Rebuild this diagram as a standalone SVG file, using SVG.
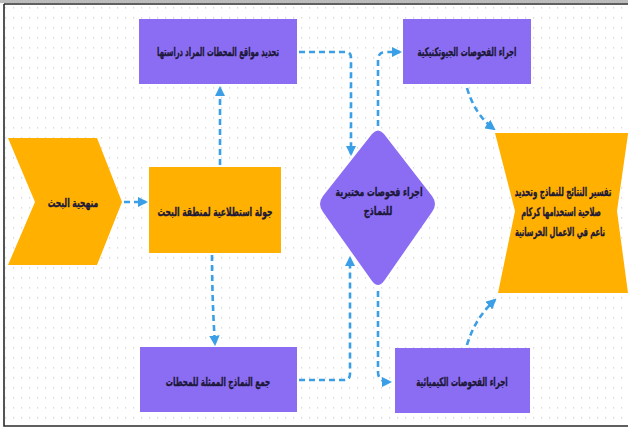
<svg xmlns="http://www.w3.org/2000/svg" width="628" height="428" viewBox="0 0 628 428">
<defs>
<pattern id="dots" x="2" y="3" width="8" height="10" patternUnits="userSpaceOnUse">
<rect x="3" y="4" width="1.2" height="1.6" fill="#dadade"/>
</pattern>
<marker id="ah" viewBox="0 0 10 10" refX="8" refY="5" markerWidth="4" markerHeight="4" orient="auto" markerUnits="strokeWidth">
<path d="M0,0 L10,5 L0,10 z" fill="#3a9fe6"/>
</marker>
<style>
.p{fill:#8b6df3}
.o{fill:#ffb000}
.t{font-family:"DejaVu Sans","Noto Sans",sans-serif;font-weight:bold;font-size:12px;fill:#1c1838;stroke:#1c1838;stroke-width:0.35;text-anchor:middle}
.c{fill:none;stroke:#3a9fe6;stroke-width:2.6;stroke-dasharray:6 4;marker-end:url(#ah)}
</style>
</defs>
<rect width="628" height="428" fill="#ffffff"/>
<rect x="5" y="5" width="623" height="420" fill="url(#dots)"/>
<path d="M0,1.5 H628" stroke="#bbbbbb" stroke-width="3"/>
<path d="M4,4 H628 M4,4 V426 H628" fill="none" stroke="#2b2b2b" stroke-width="1.6"/>

<g id="n-method">
<polygon class="o" points="8,138 97,138 122,202 97,265 8,265 35,202"/>
<text class="t" transform="translate(73,207) scale(0.63,1)">منهجية البحث</text>
</g>
<g id="n-survey">
<rect class="o" x="149" y="167" width="132" height="86"/>
<text class="t" transform="translate(215,216) scale(0.63,1)">جولة استطلاعية لمنطقة البحث</text>
</g>
<g id="n-sites">
<rect class="p" x="139" y="19" width="158" height="65"/>
<text class="t" transform="translate(218,56) scale(0.56,1)">تحديد مواقع المحطات المراد دراستها</text>
</g>
<g id="n-collect">
<rect class="p" x="140" y="347" width="157" height="65"/>
<text class="t" transform="translate(218,386) scale(0.6,1)">جمع النماذج الممثلة للمحطات</text>
</g>
<g id="n-lab">
<path class="p" d="M372,134 Q378,127 384,134 L432,196 Q438,204 432,212 L384,281 Q378,289 372,281 L323,212 Q317,204 323,196 Z"/>
<text class="t" transform="translate(379,196) scale(0.64,1)">اجراء فحوصات مختبرية</text>
<text class="t" transform="translate(378,215) scale(0.69,1)">للنماذج</text>
</g>
<g id="n-geo">
<rect class="p" x="403" y="19" width="128" height="65"/>
<text class="t" transform="translate(467,56) scale(0.58,1)">اجراء الفحوصات الجيوتكنيكية</text>
</g>
<g id="n-chem">
<rect class="p" x="395" y="348" width="135" height="65"/>
<text class="t" transform="translate(462,386) scale(0.59,1)">اجراء الفحوصات الكيميائية</text>
</g>
<g id="n-result">
<polygon class="o" points="495,133 628,133 628,134 617,211 628,293 498,293 515,211"/>
<text class="t" transform="translate(563,196) scale(0.58,1)">تفسير النتائج للنماذج وتحديد</text>
<text class="t" transform="translate(561,216) scale(0.55,1)">صلاحية استخدامها كركام</text>
<text class="t" transform="translate(560,236) scale(0.56,1)">ناعم في الاعمال الخرسانية</text>
</g>

<g id="connectors">
<path class="c" d="M124,202 H146"/>
<path class="c" d="M220,165 V88"/>
<path class="c" d="M212,255 Q212,300 215,344"/>
<path class="c" d="M299,52 H346 Q351,52 351,58 V154"/>
<path class="c" d="M378,126 V60 Q378,52 386,52 H400"/>
<path class="c" d="M467,88 Q475,115 494,129"/>
<path class="c" d="M299,380 H344 Q350,380 350,374 V258"/>
<path class="c" d="M378,291 V372 Q378,382 390,382"/>
<path class="c" d="M467,345 Q475,318 495,300"/>
</g>
</svg>
